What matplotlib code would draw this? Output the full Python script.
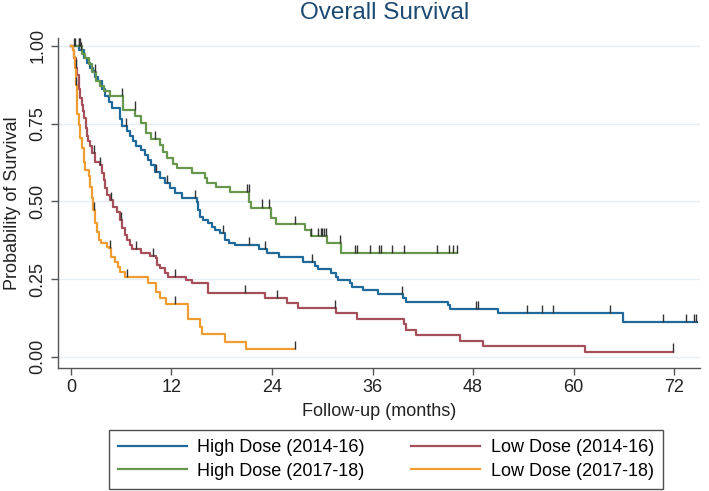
import numpy as np
import matplotlib
matplotlib.use("Agg")
import matplotlib.pyplot as plt

plt.rcParams['font.family'] = ['Liberation Sans', 'DejaVu Sans']

# ---------------- data ----------------
series_names = ["High Dose (2014-16)", "High Dose (2017-18)",
                "Low Dose (2014-16)", "Low Dose (2017-18)"]

# High Dose (2014-16)
hd1416_times = [1.0, 1.5, 1.9, 2.3, 2.6, 2.9, 3.2, 3.7, 4.1, 4.5, 4.9, 5.8, 6.1, 6.7,
                7.0, 7.4, 7.8, 8.4, 8.8, 9.2, 9.6, 10.0, 10.6, 11.2, 11.8, 12.4, 13.3,
                15.0, 15.2, 15.4, 15.8, 16.4, 16.8, 17.2, 17.8, 18.4, 18.9, 19.6, 22.4,
                23.4, 24.8, 27.7, 29.1, 29.5, 31.1, 31.7, 31.9, 33.3, 33.5, 34.9, 36.7,
                39.7, 40.0, 45.0, 45.3, 51.0, 65.9]
hd1416_surv = [0.985, 0.96, 0.945, 0.93, 0.92, 0.90, 0.887, 0.86, 0.838, 0.82, 0.80, 0.765,
               0.741, 0.725, 0.71, 0.695, 0.678, 0.665, 0.649, 0.633, 0.617, 0.595, 0.574,
               0.558, 0.542, 0.526, 0.51, 0.499, 0.472, 0.45, 0.44, 0.429, 0.418, 0.408,
               0.397, 0.375, 0.367, 0.359, 0.345, 0.333, 0.322, 0.305, 0.292, 0.281, 0.268,
               0.257, 0.247, 0.236, 0.225, 0.215, 0.202, 0.188, 0.177, 0.166, 0.155, 0.14,
               0.111]
hd1416_end = 74.7
hd1416_censor = [0.5, 0.9, 1.2, 6.6, 10.2, 11.5, 14.8, 18.2, 21.3, 23.2, 28.8, 39.5, 48.4,
                 48.6, 54.5, 56.2, 57.6, 64.4, 70.7, 73.4, 74.4, 74.6]

# High Dose (2017-18)
hd1718_times = [1.3, 1.7, 2.2, 2.5, 3.0, 3.5, 4.0, 4.6, 6.2, 7.7, 8.3, 9.0, 9.6, 10.6,
                11.0, 11.5, 12.2, 12.6, 14.4, 16.0, 16.2, 17.3, 19.0, 21.3, 21.5, 23.9,
                24.5, 27.9, 28.6, 30.6, 32.2]
hd1718_surv = [0.975, 0.96, 0.94, 0.917, 0.886, 0.87, 0.854, 0.838, 0.795, 0.775, 0.752,
               0.72, 0.70, 0.682, 0.66, 0.64, 0.62, 0.606, 0.592, 0.575, 0.56, 0.545,
               0.529, 0.499, 0.48, 0.445, 0.427, 0.408, 0.388, 0.365, 0.333]
hd1718_end = 46.1
hd1718_censor = [0.4, 0.9, 1.1, 2.9, 6.1, 7.6, 10.0, 21.0, 21.2, 22.8, 23.6, 26.7, 28.6,
                 29.5, 29.8, 30.0, 30.2, 30.5, 32.1, 33.9, 34.1, 35.7, 36.8, 37.0, 38.3,
                 39.8, 43.7, 45.1, 45.6, 46.1]

# Low Dose (2014-16)
ld1416_times = [0.3, 0.4, 0.6, 0.7, 0.9, 1.0, 1.1, 1.3, 1.4, 1.55, 1.75, 1.87, 2.07, 2.3,
                2.5, 2.9, 3.5, 3.7, 3.9, 4.1, 4.3, 4.7, 5.05, 5.45, 5.8, 6.05, 6.45, 6.65,
                7.0, 7.25, 8.4, 9.4, 10.1, 10.3, 10.6, 11.2, 11.6, 13.7, 14.4, 16.4, 23.2,
                25.8, 27.1, 31.6, 34.1, 39.8, 40.0, 41.2, 46.4, 49.2, 61.4]
ld1416_surv = [0.985, 0.96, 0.93, 0.907, 0.886, 0.86, 0.832, 0.81, 0.79, 0.768, 0.736,
               0.709, 0.693, 0.677, 0.654, 0.627, 0.617, 0.59, 0.569, 0.542, 0.52, 0.504,
               0.483, 0.467, 0.44, 0.413, 0.392, 0.375, 0.359, 0.346, 0.333, 0.324, 0.317,
               0.295, 0.284, 0.268, 0.257, 0.247, 0.236, 0.204, 0.188, 0.172, 0.156, 0.14,
               0.122, 0.105, 0.086, 0.07, 0.052, 0.034, 0.017]
ld1416_end = 71.9
ld1416_censor = [0.65, 2.7, 3.5, 4.8, 6.0, 7.8, 9.75, 12.4, 20.8, 24.6, 31.5, 71.9]

# Low Dose (2017-18)
ld1718_times = [0.2, 0.35, 0.5, 0.55, 0.6, 0.7, 0.75, 0.9, 1.0, 1.1, 1.3, 1.5, 1.6, 1.7,
                2.1, 2.3, 2.5, 2.65, 2.9, 3.1, 3.3, 3.6, 4.3, 4.5, 4.8, 5.25, 5.65, 5.85,
                6.45, 9.2, 10.2, 10.6, 11.4, 14.0, 15.4, 15.6, 18.4, 20.9]
ld1718_surv = [0.985, 0.965, 0.93, 0.907, 0.875, 0.81, 0.78, 0.768, 0.746, 0.704, 0.671,
               0.654, 0.625, 0.60, 0.58, 0.547, 0.51, 0.472, 0.429, 0.402, 0.375, 0.365,
               0.354, 0.349, 0.322, 0.306, 0.29, 0.273, 0.255, 0.236, 0.209, 0.188, 0.17,
               0.123, 0.097, 0.072, 0.048, 0.025]
ld1718_end = 26.7
ld1718_censor = [0.6, 2.8, 4.65, 6.65, 12.4, 26.7]

x_ticks = [0, 12, 24, 36, 48, 60, 72]
y_ticks = [0.00, 0.25, 0.50, 0.75, 1.00]
y_tick_labels = ["0.00", "0.25", "0.50", "0.75", "1.00"]

# ---------------- styling ----------------
colors = ['#1f6a9a', '#67974c', '#a44f59', '#ef9d33']
W, H = 709, 491
fig = plt.figure(figsize=(W / 100, H / 100), dpi=100)
ax = fig.add_axes([58 / W, 1 - 368 / H, (700 - 58) / W, (368 - 38) / H])

series = [
    (hd1416_times, hd1416_surv, hd1416_end, hd1416_censor),
    (hd1718_times, hd1718_surv, hd1718_end, hd1718_censor),
    (ld1416_times, ld1416_surv, ld1416_end, ld1416_censor),
    (ld1718_times, ld1718_surv, ld1718_end, ld1718_censor),
]

for yv in y_ticks:
    ax.axhline(yv, color='#e6edf3', lw=1.0, zorder=0)

handles = []
for (t, s, end, cens), col, name in zip(series, colors, series_names):
    tt = np.array([0.0] + list(t) + [end])
    ss = np.array([1.0] + list(s) + [s[-1]])
    h, = ax.step(tt, ss, where='post', color=col, lw=1.6, label=name, zorder=3)
    handles.append(h)
    c = np.array(cens)
    idx = np.searchsorted(tt, c, side='right') - 1
    cs = ss[np.clip(idx, 0, len(ss) - 1)]
    ax.vlines(c, cs, cs + 0.026, color='#333333', lw=1.0, zorder=4)

ax.set_xlim(-1.55, 75.1)
ax.set_ylim(-0.036, 1.025)
ax.set_xticks(x_ticks)
ax.set_xticklabels([str(v) for v in x_ticks])
ax.set_yticks(y_ticks)
ax.set_yticklabels(y_tick_labels, rotation=90, va='center')
for sp in ['top', 'right']:
    ax.spines[sp].set_visible(False)
for sp in ['left', 'bottom']:
    ax.spines[sp].set_color('#555555')
    ax.spines[sp].set_linewidth(1.0)
ax.tick_params(axis='both', colors='#555555', labelcolor='#222222', labelsize=13,
               length=5, width=1.0)
ax.tick_params(axis='x', pad=3)
ax.set_xlabel("Follow-up (months)", fontsize=13, color='#222222', labelpad=5)
ax.set_ylabel("Probability of Survival", fontsize=13, color='#222222', labelpad=6)

fig.text(385 / W, 1 - 13 / H, "Overall Survival", ha='center', va='center',
         fontsize=17.5, color='#1e4a72')

leg = fig.legend(handles=handles, loc='center', ncol=2,
                 bbox_to_anchor=(100 / W, 1 - 487 / H, 572 / W, 55 / H), mode='expand',
                 fontsize=13, frameon=True, fancybox=False, edgecolor='#222222',
                 handlelength=3.8, handletextpad=0.6, labelspacing=0.35,
                 borderpad=0.5, columnspacing=2.0)
leg.get_frame().set_linewidth(1.0)

fig.savefig("out.png", dpi=100)
